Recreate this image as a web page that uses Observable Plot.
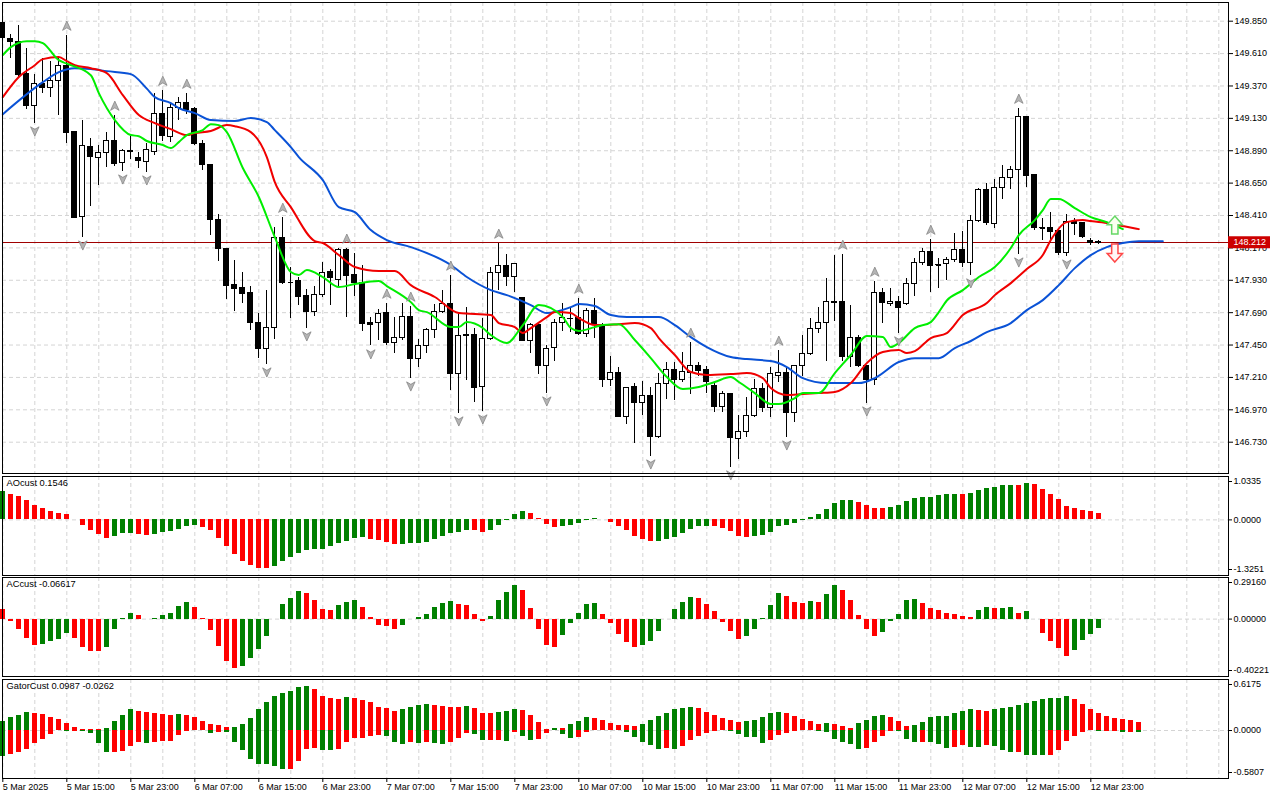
<!DOCTYPE html>
<html><head><meta charset="utf-8">
<script src="https://cdn.jsdelivr.net/npm/d3@7"></script>
<script src="https://cdn.jsdelivr.net/npm/@observablehq/plot@0.6"></script>
<style>
html,body{margin:0;padding:0;background:#fff;overflow:hidden;}
#chart svg{display:block;}
</style></head><body><div id="chart"></div>
<script>
// ---------- DATA ----------
const open=[149.836,149.717,149.695,149.458,149.221,149.384,149.354,149.406,149.517,149.028,
148.398,148.917,148.836,148.873,148.962,148.798,148.887,148.836,148.806,148.880,
149.162,148.992,149.206,149.243,149.199,148.939,148.784,148.376,148.161,147.894,
147.872,147.835,147.613,147.420,147.576,148.243,147.917,147.924,147.813,147.694,
147.820,147.991,147.931,148.154,147.969,147.909,147.613,147.613,147.687,147.465,
147.502,147.657,147.346,147.443,147.561,147.694,147.754,147.235,147.524,147.524,
147.139,147.494,147.983,148.035,147.954,147.798,147.480,147.598,147.294,147.428,
147.613,147.642,147.650,147.531,147.702,147.598,147.190,147.242,146.916,147.139,
147.020,147.072,146.768,147.161,147.265,147.190,147.242,147.294,147.265,147.146,
146.990,147.087,146.753,146.805,146.924,147.124,146.983,147.220,147.242,146.946,
147.294,147.383,147.568,147.613,147.768,147.768,147.361,147.502,147.294,147.190,
147.835,147.754,147.768,147.754,147.902,148.057,148.139,148.043,148.050,148.080,
148.154,148.057,148.368,148.598,148.346,148.613,148.687,148.747,149.139,148.710,
148.317,148.317,148.294,148.132,148.361,148.354,148.220,148.206];
const high=[149.858,149.754,149.821,149.651,149.458,149.576,149.554,149.584,149.747,149.036,
149.117,148.984,148.932,149.028,149.154,148.902,148.992,148.880,148.947,149.317,
149.339,149.243,149.287,149.317,149.213,148.969,148.784,148.420,148.161,148.080,
147.991,147.887,147.687,147.857,148.324,148.398,148.028,147.954,147.865,147.887,
148.065,148.013,148.169,148.169,148.132,148.043,147.657,147.717,147.761,147.657,
147.761,147.739,147.494,147.576,147.754,147.857,147.969,147.687,147.731,147.576,
147.650,148.028,148.206,148.124,148.057,147.806,147.613,147.613,147.443,147.642,
147.761,147.724,147.798,147.724,147.798,147.613,147.368,147.287,147.139,147.168,
147.183,147.139,147.242,147.317,147.324,147.398,147.472,147.317,147.294,147.168,
147.102,147.094,146.931,147.064,147.198,147.168,147.287,147.413,147.287,147.302,
147.524,147.650,147.731,147.946,148.117,148.124,147.746,147.524,147.294,147.924,
147.872,147.872,147.813,147.946,148.094,148.169,148.235,148.094,148.102,148.280,
148.294,148.413,148.613,148.650,148.680,148.784,148.776,149.206,149.147,148.710,
148.391,148.435,148.294,148.420,148.391,148.354,148.243,148.228];
const low=[149.710,149.576,149.428,149.199,149.095,149.317,149.287,149.154,148.947,148.391,
148.250,148.480,148.635,148.769,148.776,148.739,148.828,148.762,148.732,148.858,
148.962,148.954,149.117,149.162,148.932,148.747,148.265,148.072,147.791,147.702,
147.761,147.561,147.353,147.309,147.494,147.902,147.650,147.746,147.576,147.665,
147.806,147.746,147.880,147.657,147.813,147.554,147.443,147.480,147.450,147.391,
147.487,147.205,147.287,147.391,147.502,147.687,147.116,146.946,147.190,147.027,
146.961,147.487,147.857,147.887,147.843,147.480,147.391,147.228,147.094,147.331,
147.554,147.546,147.524,147.509,147.502,147.139,147.146,146.916,146.864,146.724,
146.931,146.627,146.761,147.050,147.042,147.176,147.087,147.220,147.094,146.953,
146.953,146.546,146.605,146.768,146.916,146.953,146.916,147.176,146.768,146.879,
147.220,147.376,147.539,147.331,147.628,147.331,147.287,147.287,147.020,147.153,
147.613,147.739,147.539,147.746,147.813,148.043,147.843,147.872,147.931,148.065,
148.028,147.969,148.361,148.339,148.317,148.532,148.606,148.124,148.620,148.302,
148.228,148.206,148.117,148.109,148.265,148.243,148.191,148.198];
const close=[149.725,149.695,149.451,149.221,149.384,149.354,149.406,149.517,149.021,148.391,
148.924,148.843,148.873,148.962,148.791,148.887,148.880,148.813,148.895,149.162,
149.000,149.206,149.243,149.191,148.939,148.784,148.376,148.161,147.887,147.865,
147.828,147.613,147.420,147.576,148.243,147.909,147.917,147.806,147.694,147.820,
147.983,147.946,148.154,147.961,147.909,147.606,147.598,147.680,147.465,147.502,
147.657,147.346,147.443,147.561,147.694,147.754,147.235,147.517,147.517,147.131,
147.494,147.983,148.035,147.954,148.050,147.480,147.598,147.294,147.420,147.613,
147.650,147.645,147.531,147.702,147.598,147.190,147.242,146.916,147.131,147.020,
147.072,146.768,147.161,147.265,147.190,147.250,147.294,147.257,147.176,146.990,
147.087,146.761,146.805,146.924,147.124,146.983,147.235,147.242,146.946,147.294,
147.383,147.568,147.613,147.768,147.765,147.361,147.502,147.294,147.190,147.835,
147.761,147.768,147.724,147.902,148.057,148.139,148.035,148.040,148.080,148.154,
148.057,148.368,148.598,148.354,148.613,148.687,148.747,149.139,148.702,148.317,
148.314,148.287,148.132,148.361,148.346,148.250,148.206,148.212];

// Alligator lines: [bar index, price]
const jaw=[[0,149.161],[5,149.398],[7,149.473],[9,149.502],[11,149.495],[13,149.480],[16,149.458],[18,149.350],[19,149.287],[21,149.243],[22,149.206],[24,149.169],[26,149.117],[29,149.110],[31,149.132],[33,149.102],[34,149.043],[36,148.917],[37,148.843],[40,148.672],[42,148.472],[44,148.435],[46,148.302],[48,148.228],[51,148.176],[56,148.043],[58,147.954],[61,147.857],[63,147.820],[66,147.746],[68,147.687],[71,147.731],[72,147.754],[74,147.739],[76,147.672],[78,147.657],[82,147.657],[84,147.598],[86,147.509],[88,147.435],[91,147.361],[93,147.346],[96,147.331],[98,147.287],[100,147.205],[103,147.168],[107,147.168],[109,147.205],[112,147.324],[114,147.353],[117,147.353],[119,147.428],[121,147.480],[123,147.546],[126,147.613],[128,147.709],[130,147.783],[132,147.894],[134,148.020],[136,148.117],[138,148.176],[140,148.206],[142,148.220],[145,148.220]];
const teeth=[[0,149.287],[2,149.436],[4,149.524],[5,149.569],[7,149.584],[8,149.554],[9,149.524],[11,149.502],[13,149.465],[15,149.302],[17,149.154],[19,149.095],[21,149.050],[23,149.006],[24,149.021],[26,149.036],[28,149.080],[29,149.072],[31,149.028],[33,148.843],[34,148.657],[36,148.472],[39,148.220],[40,148.206],[42,148.117],[44,148.028],[47,147.998],[49,147.998],[51,147.894],[54,147.806],[57,147.687],[61,147.672],[62,147.613],[64,147.583],[65,147.539],[66,147.576],[68,147.657],[69,147.694],[71,147.687],[72,147.650],[74,147.598],[75,147.598],[77,147.605],[79,147.613],[81,147.576],[82,147.502],[84,147.376],[86,147.250],[88,147.228],[91,147.235],[93,147.242],[95,147.205],[96,147.131],[98,147.079],[100,147.087],[102,147.094],[104,147.102],[106,147.168],[108,147.316],[110,147.398],[112,147.413],[113,147.391],[114,147.405],[116,147.502],[118,147.539],[120,147.672],[123,147.761],[124,147.820],[126,147.909],[128,148.013],[130,148.117],[131,148.228],[133,148.361],[135,148.376],[136,148.369],[138,148.354],[140,148.332],[142,148.309]];
const lips=[[0,149.599],[1,149.658],[3,149.702],[4,149.702],[5,149.688],[7,149.561],[8,149.535],[11,149.450],[12,149.317],[14,149.117],[16,149.006],[17,148.998],[18,148.962],[20,148.932],[21,148.910],[22,148.954],[23,149.006],[25,149.043],[26,149.087],[27,149.080],[28,149.028],[30,148.762],[32,148.547],[34,148.250],[36,147.991],[37,147.969],[38,148.006],[40,147.954],[42,147.880],[44,147.902],[47,147.924],[48,147.887],[51,147.768],[52,147.709],[53,147.694],[56,147.583],[57,147.583],[58,147.620],[60,147.576],[61,147.524],[63,147.465],[65,147.598],[67,147.746],[70,147.657],[71,147.576],[72,147.554],[74,147.583],[75,147.598],[77,147.605],[79,147.487],[81,147.353],[83,147.213],[85,147.124],[87,147.139],[89,147.176],[91,147.213],[92,147.176],[94,147.094],[96,147.013],[97,147.013],[99,147.057],[100,147.094],[102,147.094],[104,147.242],[105,147.310],[106,147.376],[108,147.517],[110,147.510],[111,147.435],[112,147.465],[114,147.576],[116,147.620],[117,147.694],[118,147.780],[120,147.857],[122,147.954],[124,148.028],[126,148.169],[127,148.265],[129,148.376],[130,148.450],[131,148.532],[132,148.532],[134,148.465],[136,148.398],[138,148.361],[140,148.309]];

const fractalUp=[8,14,20,23,35,43,48,51,56,62,72,86,97,105,109,116,127];
const fractalDown=[4,10,15,18,33,38,46,51,57,60,68,81,91,98,108,112,121,127,133];
const signalUp=[[139,148.339]];
const signalDown=[[139,148.132]];
const lastPrice=148.212;

const aoBefore=0.66;
const ao=[0.680,0.615,0.566,0.467,0.344,0.270,0.197,0.148,0.123,0.016,
-0.123,-0.246,-0.344,-0.434,-0.393,-0.336,-0.320,-0.344,-0.369,-0.344,
-0.295,-0.287,-0.221,-0.148,-0.131,-0.189,-0.262,-0.434,-0.639,-0.836,
-0.984,-1.082,-1.148,-1.150,-1.107,-1.000,-0.902,-0.811,-0.738,-0.713,
-0.710,-0.631,-0.557,-0.525,-0.434,-0.430,-0.459,-0.500,-0.533,-0.582,
-0.580,-0.557,-0.555,-0.533,-0.459,-0.385,-0.336,-0.311,-0.262,-0.264,
-0.311,-0.262,-0.123,-0.016,0.123,0.197,0.148,0.025,-0.115,-0.189,
-0.164,-0.139,-0.090,-0.008,0.025,0.016,-0.066,-0.164,-0.262,-0.385,
-0.467,-0.508,-0.505,-0.459,-0.410,-0.336,-0.238,-0.164,-0.160,-0.165,
-0.213,-0.287,-0.385,-0.410,-0.405,-0.369,-0.303,-0.148,-0.123,-0.098,
-0.005,0.049,0.123,0.246,0.393,0.467,0.472,0.418,0.344,0.270,
0.266,0.295,0.344,0.443,0.516,0.541,0.545,0.590,0.594,0.612,
0.608,0.620,0.689,0.738,0.762,0.811,0.830,0.826,0.860,0.836,
0.713,0.615,0.492,0.320,0.270,0.221,0.197,0.1546];
const acBefore=0.11;
const ac=[0.064,-0.019,-0.071,-0.135,-0.184,-0.177,-0.160,-0.142,-0.099,-0.135,
-0.198,-0.227,-0.228,-0.198,-0.071,0.007,0.042,0.028,-0.002,0.001,
0.028,0.042,0.085,0.113,0.078,0.007,-0.083,-0.191,-0.297,-0.345,
-0.333,-0.274,-0.210,-0.120,-0.004,0.099,0.142,0.191,0.177,0.127,
0.064,0.062,0.092,0.113,0.127,0.078,0.014,-0.042,-0.054,-0.076,
-0.047,-0.004,0.014,0.035,0.078,0.106,0.120,0.099,0.092,0.035,
-0.019,0.021,0.127,0.184,0.234,0.198,0.071,-0.071,-0.184,-0.198,
-0.113,-0.028,0.042,0.099,0.106,0.035,-0.028,-0.106,-0.163,-0.198,
-0.184,-0.156,-0.085,-0.003,0.064,0.113,0.149,0.142,0.099,0.050,
-0.026,-0.090,-0.142,-0.120,-0.071,0.005,0.092,0.177,0.156,0.113,
0.106,0.120,0.119,0.170,0.234,0.198,0.127,0.028,-0.071,-0.120,
-0.092,-0.019,0.035,0.127,0.135,0.106,0.071,0.057,0.042,0.035,
0.021,0.014,0.057,0.078,0.071,0.076,0.079,0.042,0.050,-0.004,
-0.099,-0.156,-0.205,-0.262,-0.219,-0.149,-0.106,-0.06617];
const gatorUpBefore=0.09;
const gatorUp=[0.110,0.163,0.187,0.216,0.200,0.198,0.163,0.139,0.090,0.041,
0.016,0.015,0.014,0.024,0.114,0.187,0.249,0.236,0.224,0.200,
0.198,0.187,0.196,0.187,0.163,0.114,0.077,0.065,0.041,0.042,
0.077,0.151,0.249,0.334,0.407,0.444,0.469,0.518,0.530,0.493,
0.407,0.383,0.371,0.395,0.383,0.359,0.334,0.273,0.261,0.236,
0.249,0.273,0.297,0.310,0.297,0.285,0.284,0.283,0.286,0.261,
0.212,0.200,0.224,0.236,0.249,0.247,0.187,0.102,0.016,0.029,
0.028,0.077,0.114,0.163,0.151,0.126,0.090,0.065,0.064,0.053,
0.077,0.126,0.175,0.212,0.249,0.261,0.273,0.261,0.224,0.187,
0.151,0.126,0.102,0.114,0.126,0.163,0.200,0.224,0.212,0.175,
0.139,0.114,0.077,0.079,0.076,0.053,0.029,0.090,0.126,0.175,
0.187,0.163,0.114,0.053,0.055,0.102,0.163,0.164,0.175,0.200,
0.236,0.249,0.248,0.236,0.249,0.261,0.273,0.297,0.322,0.346,
0.371,0.383,0.385,0.407,0.371,0.310,0.249,0.200,0.170,0.150,
0.135,0.120,0.0987];
const gatorDownBefore=-0.30;
const gatorDown=[-0.310,-0.289,-0.261,-0.228,-0.163,-0.114,-0.053,-0.004,-0.012,-0.006,
-0.016,-0.041,-0.163,-0.269,-0.267,-0.249,-0.196,-0.147,-0.163,-0.139,
-0.137,-0.136,-0.065,-0.012,-0.004,-0.001,-0.041,-0.020,-0.029,-0.139,
-0.244,-0.346,-0.407,-0.409,-0.432,-0.469,-0.467,-0.371,-0.224,-0.222,
-0.236,-0.237,-0.235,-0.139,-0.102,-0.100,-0.077,-0.061,-0.073,-0.147,
-0.175,-0.147,-0.163,-0.147,-0.163,-0.165,-0.147,-0.102,-0.041,-0.053,
-0.126,-0.125,-0.124,-0.127,-0.024,-0.073,-0.126,-0.114,-0.037,-0.004,
-0.049,-0.102,-0.086,-0.020,-0.004,-0.001,-0.003,-0.004,-0.024,-0.086,
-0.147,-0.187,-0.224,-0.212,-0.224,-0.196,-0.122,-0.073,-0.037,-0.012,
-0.002,-0.012,-0.049,-0.086,-0.090,-0.163,-0.126,-0.065,-0.037,-0.010,
-0.005,-0.003,-0.012,-0.024,-0.114,-0.147,-0.175,-0.224,-0.222,-0.147,
-0.073,-0.008,-0.012,-0.114,-0.147,-0.139,-0.142,-0.175,-0.212,-0.210,
-0.187,-0.204,-0.206,-0.187,-0.196,-0.245,-0.269,-0.261,-0.297,-0.306,
-0.308,-0.297,-0.236,-0.130,-0.069,-0.029,-0.005,-0.012,-0.008,-0.006,
-0.020,-0.018,-0.0262];

const priceTicks=[149.850,149.610,149.370,149.130,148.890,148.650,148.410,148.170,147.930,147.690,147.450,147.210,146.970,146.730];
const xTickIdx=[0,8,16,24,32,40,48,56,64,72,80,88,96,104,112,120,128,136];
const xTickLabels=["5 Mar 2025","5 Mar 15:00","5 Mar 23:00","6 Mar 07:00","6 Mar 15:00","6 Mar 23:00","7 Mar 07:00","7 Mar 15:00","7 Mar 23:00","10 Mar 07:00","10 Mar 15:00","10 Mar 23:00","11 Mar 07:00","11 Mar 15:00","11 Mar 23:00","12 Mar 07:00","12 Mar 15:00","12 Mar 23:00"];
const aoRange=[-1.3251,1.0335], acRange=[-0.40221,0.29160], gatorRange=[-0.5807,0.6175];
const aoTitle="AOcust 0.1546", acTitle="ACcust -0.06617", gatorTitle="GatorCust 0.0987 -0.0262";

// ---------- LAYOUT / STYLE ----------
const W=1280, ML=2, MR=52;
const xDomain=[-0.04,153.21];
const xMax=xDomain[1];
const pxPerBar=(W-ML-MR)/(xDomain[1]-xDomain[0]);
const FONT="'Liberation Sans', Arial, sans-serif";
const GREEN="#008000", RED="#ff0000";
const grid={stroke:"#d4d4d4", strokeDasharray:"4,3", strokeWidth:1};
const gridIdx=d3.range(0,154,4);
const baseStyle={fontFamily:FONT, fontSize:"9px", background:"#fff", color:"#000", overflow:"visible"};

const candles=close.map((c,i)=>({i,o:open[i],h:high[i],l:low[i],c,up:c>=open[i]}));
const dojis=candles.filter(d=>Math.abs(d.o-d.c)<0.004);
const dir=(vals,before,abs)=>vals.map((v,i)=>{const p=i?vals[i-1]:before;return {i,v,up:abs?Math.abs(v)>Math.abs(p):v>p};});

const arrowHead=(up)=>({draw(ctx,size){const s=Math.sqrt(size/Math.PI);const k=up?1:-1;
  ctx.moveTo(0,-s*k);ctx.lineTo(0.85*s,0.85*s*k);ctx.lineTo(0,0.35*s*k);ctx.lineTo(-0.85*s,0.85*s*k);ctx.closePath();}});
const blockArrow=(up)=>({draw(ctx,size){const s=Math.sqrt(size/Math.PI);const k=up?1:-1;
  ctx.moveTo(0,-s*k);ctx.lineTo(0.85*s,-0.05*s*k);ctx.lineTo(0.35*s,-0.05*s*k);ctx.lineTo(0.35*s,s*k);
  ctx.lineTo(-0.35*s,s*k);ctx.lineTo(-0.35*s,-0.05*s*k);ctx.lineTo(-0.85*s,-0.05*s*k);ctx.closePath();}});

function panelMarks(data,title,range,fmt){
  return [
    Plot.ruleX(gridIdx,grid),
    Plot.ruleY([0],grid),
    Plot.rect(data,{x1:d=>d.i-0.3,x2:d=>d.i+0.3,y1:0,y2:"v",fill:d=>d.up?GREEN:RED,shapeRendering:"crispEdges"}),
    Plot.frame({stroke:"#000"}),
    Plot.text([title],{frameAnchor:"top-left",dx:4,dy:3,text:d=>d,fill:"#000",fontSize:9.3}),
    Plot.ruleY([range[1]],{y:d=>d,x1:xMax,x2:xMax+4/pxPerBar,dy:5,stroke:"#000"}),
    Plot.ruleY([0],{y:d=>d,x1:xMax,x2:xMax+4/pxPerBar,stroke:"#000"}),
    Plot.ruleY([range[0]],{y:d=>d,x1:xMax,x2:xMax+4/pxPerBar,dy:-6,stroke:"#000"}),
    Plot.text([range[1]],{y:d=>d,frameAnchor:"right",dx:5,dy:5,textAnchor:"start",text:d=>fmt(d),fill:"#000"}),
    Plot.text([0],{y:d=>d,frameAnchor:"right",dx:5,textAnchor:"start",text:d=>fmt(d),fill:"#000"}),
    Plot.text([range[0]],{y:d=>d,frameAnchor:"right",dx:5,dy:-6,textAnchor:"start",text:d=>fmt(d),fill:"#000"})
  ];
}

const main=Plot.plot({
  width:W,height:475,marginLeft:ML,marginRight:MR,marginTop:2,marginBottom:2,
  style:baseStyle,
  x:{domain:xDomain,axis:null},
  y:{domain:[146.498,149.9886],axis:null},
  marks:[
    Plot.ruleX(gridIdx,grid),
    Plot.ruleY(priceTicks,grid),
    Plot.ruleY([lastPrice],{stroke:"#a00000",strokeWidth:1,shapeRendering:"crispEdges"}),
    Plot.ruleX(candles,{x:"i",y1:"l",y2:"h",stroke:"#000",strokeWidth:1,shapeRendering:"crispEdges"}),
    Plot.rect(candles,{x1:d=>d.i-0.3,x2:d=>d.i+0.3,y1:"o",y2:"c",fill:d=>d.up?"#fff":"#000",stroke:"#000",strokeWidth:1,shapeRendering:"crispEdges"}),
    Plot.ruleY(dojis,{y:"c",x1:d=>d.i-0.3,x2:d=>d.i+0.3,stroke:"#000",shapeRendering:"crispEdges"}),
    Plot.line(jaw,{x:d=>d[0],y:d=>d[1],stroke:"#0a52d6",strokeWidth:2,curve:"monotone-x"}),
    Plot.line(teeth,{x:d=>d[0],y:d=>d[1],stroke:"#f00000",strokeWidth:2,curve:"monotone-x"}),
    Plot.line(lips,{x:d=>d[0],y:d=>d[1],stroke:"#00ee00",strokeWidth:2,curve:"monotone-x"}),
    Plot.dot(fractalUp,{x:d=>d,y:d=>high[d],dy:-9,r:5,symbol:arrowHead(true),fill:"#b4b4b4",stroke:"#7c7c7c",strokeWidth:0.7}),
    Plot.dot(fractalDown,{x:d=>d,y:d=>low[d],dy:8,r:5,symbol:arrowHead(false),fill:"#b4b4b4",stroke:"#7c7c7c",strokeWidth:0.7}),
    Plot.dot(signalUp,{x:d=>d[0],y:d=>d[1],r:9,symbol:blockArrow(true),fill:"#fbfff0",stroke:"#66d866",strokeWidth:1.5}),
    Plot.dot(signalDown,{x:d=>d[0],y:d=>d[1],r:9,symbol:blockArrow(false),fill:"#fff6f6",stroke:"#ff4848",strokeWidth:1.5}),
    Plot.frame({stroke:"#000"}),
    Plot.axisY({anchor:"right",ticks:priceTicks,tickFormat:d=>d.toFixed(3),tickSize:4,tickPadding:2,fill:"#000",stroke:"#000"}),
    Plot.ruleY([lastPrice],{y:d=>d,x1:xMax,x2:xMax+42/pxPerBar,stroke:"#cc0000",strokeWidth:12}),
    Plot.text([lastPrice],{y:d=>d,frameAnchor:"right",dx:5,textAnchor:"start",text:d=>d.toFixed(3),fill:"#fff"})
  ]
});

const aoPlot=Plot.plot({
  width:W,height:102,marginLeft:ML,marginRight:MR,marginTop:1,marginBottom:2,
  style:baseStyle,x:{domain:xDomain,axis:null},y:{domain:aoRange,axis:null},
  marks:panelMarks(dir(ao,aoBefore,false),aoTitle,aoRange,d=>d.toFixed(4))
});
const acPlot=Plot.plot({
  width:W,height:102,marginLeft:ML,marginRight:MR,marginTop:0,marginBottom:3,
  style:baseStyle,x:{domain:xDomain,axis:null},y:{domain:acRange,axis:null},
  marks:panelMarks(dir(ac,acBefore,false),acTitle,acRange,d=>d.toFixed(5))
});
const gMarks=panelMarks(dir(gatorUp,gatorUpBefore,false),gatorTitle,gatorRange,d=>d.toFixed(4));
gMarks.splice(3,0,Plot.rect(dir(gatorDown,gatorDownBefore,true),{x1:d=>d.i-0.3,x2:d=>d.i+0.3,y1:0,y2:"v",fill:d=>d.up?GREEN:RED,shapeRendering:"crispEdges"}));
gMarks.push(Plot.axisX({anchor:"bottom",ticks:xTickIdx,tickFormat:d=>xTickLabels[xTickIdx.indexOf(d)],tickSize:4,tickPadding:1,textAnchor:"start",dx:0,fill:"#000",stroke:"#000"}));
const gatorPlot=Plot.plot({
  width:W,height:121,marginLeft:ML,marginRight:MR,marginTop:0,marginBottom:22,
  style:baseStyle,x:{domain:xDomain,axis:null},y:{domain:gatorRange,axis:null},
  marks:gMarks
});

const root=document.getElementById("chart");
[main,aoPlot,acPlot,gatorPlot].forEach(p=>root.appendChild(p));
</script></body></html>
